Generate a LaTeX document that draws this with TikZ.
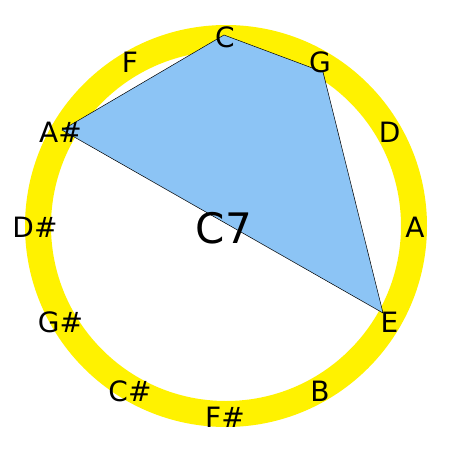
\documentclass[tikz,border=0pt]{standalone}
\usepackage{fontspec}
\setmainfont{DejaVu Sans}
\begin{document}
\begin{tikzpicture}[x=1pt,y=-1pt,
  ring/.style={draw=yellow,line width=26pt},
  chordpoly/.style={fill=chordblue,draw=black,line width=0.5pt,line join=miter},
  notelabel/.style={inner sep=0pt,font=\fontsize{28}{34}\selectfont},
  chordlabel/.style={inner sep=0pt,font=\fontsize{42}{50}\selectfont}]
\definecolor{chordblue}{HTML}{8CC4F5}
\useasboundingbox (0,0) rectangle (450,450);
\fill[white] (0,0) rectangle (450,450);
\coordinate (ctr) at (226,226);
\draw[ring] (ctr) circle[radius=188pt];
\coordinate (vC) at (224,35);
\coordinate (vG) at (323,72);
\coordinate (vE) at (383,313);
\coordinate (vAs) at (62,130);
\draw[chordpoly] (vC) -- (vG) -- (vE) -- (vAs) -- cycle;
\foreach \name/\txt [count=\k from 0] in {C/C,G/G,D/D,A/A,E/E,B/B,Fs/F\#,Cs/C\#,Gs/G\#,Ds/D\#,As/A\#,F/F}{
  \node[notelabel] (n\name) at ({225+190*sin(30*\k)},{227-190*cos(30*\k)}) {\txt};
}
\node[chordlabel] (chord) at (224,228) {C7};
\end{tikzpicture}
\end{document}
